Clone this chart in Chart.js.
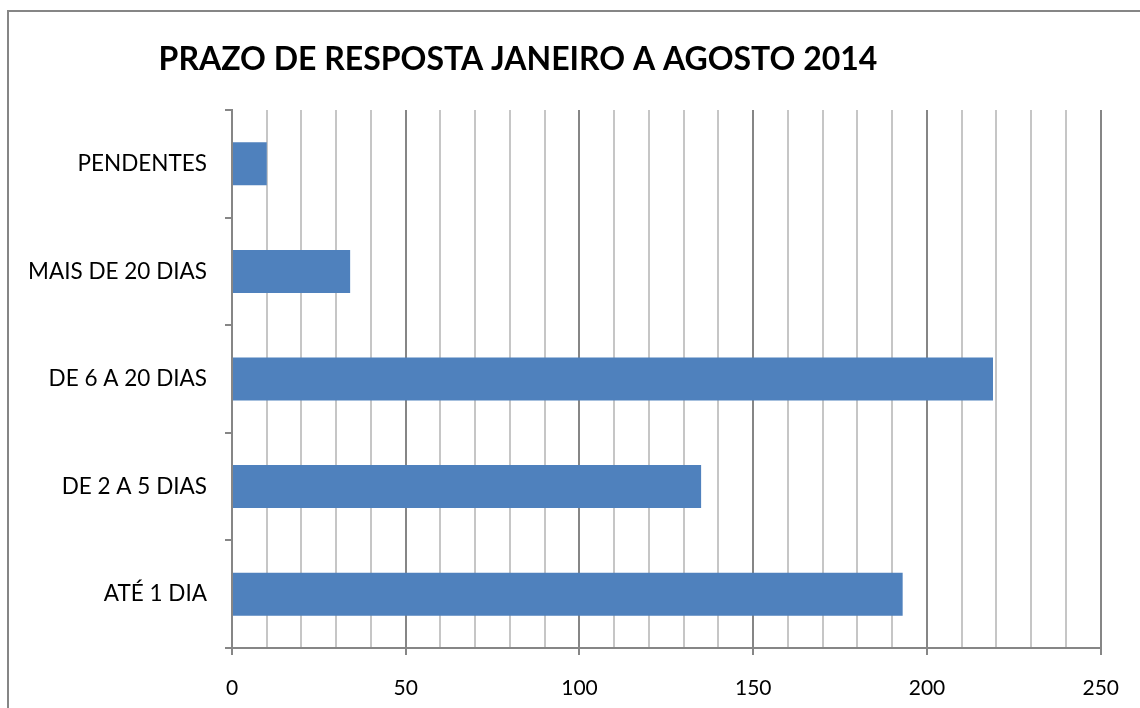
<!DOCTYPE html>
<html>
<head>
<meta charset="utf-8">
<script src="https://cdn.jsdelivr.net/npm/chart.js@4/dist/chart.umd.min.js"></script>
<style>
  html, body { margin: 0; padding: 0; background: #fff; overflow: hidden; }
</style>
</head>
<body>
<canvas id="grafic" width="1140" height="708"></canvas>
<script>
const titol = 'PRAZO DE RESPOSTA JANEIRO A AGOSTO 2014';
const categories = ['PENDENTES', 'MAIS DE 20 DIAS', 'DE 6 A 20 DIAS', 'DE 2 A 5 DIAS', 'ATÉ 1 DIA'];
const valors = [10, 34, 219, 135, 193];
const etiquetesX = ['0', '50', '100', '150', '200', '250'];

const font = 'Lato, Carlito, Calibri, sans-serif';

// marc gris i titol dibuixats a ma, Excel no centra el titol sobre l'area
const decoracio = {
    id: 'decoracio',
    beforeDraw(chart) {
        const ctx = chart.ctx;
        ctx.save();
        ctx.fillStyle = '#fff';
        ctx.fillRect(0, 0, chart.width, chart.height);
        ctx.strokeStyle = '#868686';
        ctx.lineWidth = 2;
        ctx.strokeRect(8, 11, 1300, 900);
        ctx.restore();
    },
    afterDraw(chart) {
        const ctx = chart.ctx;
        ctx.save();
        ctx.font = 'bold 32px ' + font;
        ctx.fillStyle = '#000';
        ctx.textAlign = 'center';
        ctx.textBaseline = 'middle';
        ctx.fillText(titol, 518, 60);
        ctx.restore();
    }
};

new Chart(document.getElementById('grafic'), {
    type: 'bar',
    data: {
        labels: categories,
        datasets: [{
            data: valors,
            backgroundColor: '#4f81bd',
            barPercentage: 0.4,
            categoryPercentage: 1
        }]
    },
    plugins: [decoracio],
    options: {
        indexAxis: 'y',
        responsive: false,
        animation: false,
        layout: { padding: { left: 0, top: 110, right: 36, bottom: 0 } },
        plugins: {
            legend: { display: false },
            tooltip: { enabled: false }
        },
        scales: {
            x: {
                min: 0,
                max: 250,
                ticks: {
                    stepSize: 10,
                    autoSkip: false,
                    maxRotation: 0,
                    padding: 21,
                    color: '#000',
                    font: { family: font, size: 21 },
                    callback: (v) => (v % 50 === 0 ? etiquetesX[v / 50] : '')
                },
                grid: {
                    color: (c) => (c.tick && c.tick.value % 50 === 0 ? '#868686' : '#c6c6c6'),
                    lineWidth: 2,
                    tickLength: 7,
                    tickColor: (c) => (c.tick && c.tick.value % 50 === 0 ? '#868686' : 'rgba(0,0,0,0)')
                },
                border: { color: '#868686', width: 2 },
                afterFit: (s) => { s.height = 60; }
            },
            y: {
                ticks: {
                    padding: 18,
                    color: '#000',
                    font: { family: font, size: 22.5 }
                },
                grid: {
                    drawOnChartArea: false,
                    tickLength: 7,
                    tickColor: '#868686',
                    lineWidth: 2
                },
                border: { color: '#868686', width: 2 },
                afterFit: (s) => { s.width = 232; }
            }
        }
    }
});
</script>
</body>
</html>
